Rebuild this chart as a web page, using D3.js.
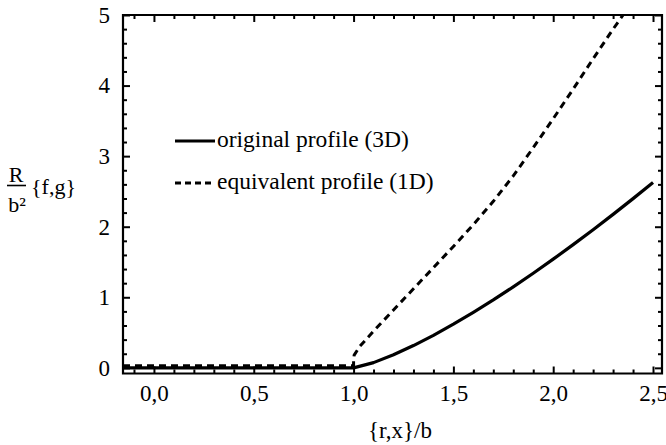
<!DOCTYPE html>
<html><head><meta charset="utf-8">
<script src="https://cdn.jsdelivr.net/npm/d3@7"></script>
</head>
<body style="margin:0;background:#fff">
<svg id="c" width="666" height="445"></svg>
<script>
// ---- data ----
const xFlat = [-0.155, 1.0];
const fFlat = [0, 0];
const gFlat = [0.03, 0.03];
const xOriginal = [1.0,1.1,1.2,1.3,1.4,1.5,1.6,1.7,1.8,1.9,2.0,2.1,2.2,2.3,2.4,2.5];
const fOriginal = [0,0.074,0.185,0.316,0.461,0.619,0.787,0.963,1.148,1.34,1.54,1.746,1.957,2.175,2.398,2.625];
const xEquivalent = [1.0,1.0,1.003,1.03,1.1,1.2,1.3,1.4,1.5,1.6,1.7,1.8,1.9,2.0,2.1,2.2,2.3,2.35];
const gEquivalent = [0.03,0.12,0.18,0.3,0.52,0.82,1.12,1.42,1.72,2.03,2.36,2.72,3.12,3.53,3.95,4.38,4.80,5.0];
const xTicks = [0,0.5,1.0,1.5,2.0,2.5];
const xTickLabels = ["0,0","0,5","1,0","1,5","2,0","2,5"];
const yTicks = [0,1,2,3,4,5];
const yTickLabels = ["0","1","2","3","4","5"];
const legendLabels = ["original profile (3D)","equivalent profile (1D)"];

const FONT = "Liberation Serif";
const svg = d3.select("#c");
const L=123, R=662, T=15, B=373.5;
const x = d3.scaleLinear().domain([-0.155, 2.545]).range([L, R]);
const y = d3.scaleLinear().domain([-0.08, 5]).range([B, T]);

const xMinor = d3.range(-0.1, 2.55, 0.1).map(v=>+v.toFixed(2)).filter(v=>!xTicks.some(t=>Math.abs(t-v)<1e-6));
const yMinor = d3.range(0, 5.01, 0.2).map(v=>+v.toFixed(2)).filter(v=>!yTicks.some(t=>Math.abs(t-v)<1e-6));

// frame
svg.append("path")
  .attr("d",`M${L},${T}H${R}V${B}H${L}Z`)
  .attr("fill","none").attr("stroke","#000").attr("stroke-width",2.2);

function addAxis(axis, tx, ty){
  const g = svg.append("g").attr("transform",`translate(${tx},${ty})`).call(axis);
  g.select(".domain").remove();
  g.selectAll(".tick line").attr("stroke","#000").attr("stroke-width",2);
  g.selectAll(".tick text").style("font-family",FONT).style("font-size","23px").attr("fill","#000");
  return g;
}
// bottom
addAxis(d3.axisBottom(x).tickValues(xTicks).tickSizeInner(-7).tickSizeOuter(0).tickPadding(11)
    .tickFormat((d,i)=>xTickLabels[i]), 0, B);
addAxis(d3.axisBottom(x).tickValues(xMinor).tickSizeInner(-4).tickSizeOuter(0).tickFormat(""), 0, B);
// top
addAxis(d3.axisTop(x).tickValues(xTicks).tickSizeInner(-7).tickSizeOuter(0).tickFormat(""), 0, T);
addAxis(d3.axisTop(x).tickValues(xMinor).tickSizeInner(-4).tickSizeOuter(0).tickFormat(""), 0, T);
// left
addAxis(d3.axisLeft(y).tickValues(yTicks).tickSizeInner(-7).tickSizeOuter(0).tickPadding(13)
    .tickFormat((d,i)=>yTickLabels[i]), L, 0);
addAxis(d3.axisLeft(y).tickValues(yMinor).tickSizeInner(-4).tickSizeOuter(0).tickFormat(""), L, 0);
// right
addAxis(d3.axisRight(y).tickValues(yTicks).tickSizeInner(-7).tickSizeOuter(0).tickFormat(""), R, 0);
addAxis(d3.axisRight(y).tickValues(yMinor).tickSizeInner(-4).tickSizeOuter(0).tickFormat(""), R, 0);

// curves
const line = d3.line().x(d=>x(d[0])).y(d=>y(d[1]));
svg.append("path").datum(d3.zip(xFlat,fFlat).concat(d3.zip(xOriginal,fOriginal).slice(1)))
  .attr("d",line).attr("fill","none").attr("stroke","#000").attr("stroke-width",3.2).attr("stroke-linejoin","round");
svg.append("path").datum(d3.zip(xFlat,gFlat).concat(d3.zip(xEquivalent,gEquivalent).slice(1)))
  .attr("d",line).attr("fill","none").attr("stroke","#000").attr("stroke-width",3)
  .attr("stroke-dasharray","7,5");

function txt(sel, size){
  return sel.style("font-family",FONT).style("font-size",size+"px").attr("fill","#000");
}
// legend
[0,1].forEach(i=>{
  const yy = 141 + i*42;
  svg.append("line").attr("x1",175).attr("x2",215).attr("y1",yy).attr("y2",yy)
    .attr("stroke","#000").attr("stroke-width",3)
    .attr("stroke-dasharray", i===1 ? "6,4" : null);
  txt(svg.append("text").attr("x",217).attr("y",yy+6), 23.5).text(legendLabels[i]);
});

// axis titles
txt(svg.append("text").attr("x",400).attr("y",438).attr("text-anchor","middle"), 23).text("{r,x}/b");
txt(svg.append("text").attr("x",16).attr("y",182).attr("text-anchor","middle"), 22).text("R");
svg.append("line").attr("x1",7).attr("x2",26).attr("y1",185.5).attr("y2",185.5)
  .attr("stroke","#000").attr("stroke-width",1.6);
txt(svg.append("text").attr("x",17).attr("y",212).attr("text-anchor","middle"), 22).text("b²");
txt(svg.append("text").attr("x",31).attr("y",194), 22).text("{f,g}");
</script></body></html>
